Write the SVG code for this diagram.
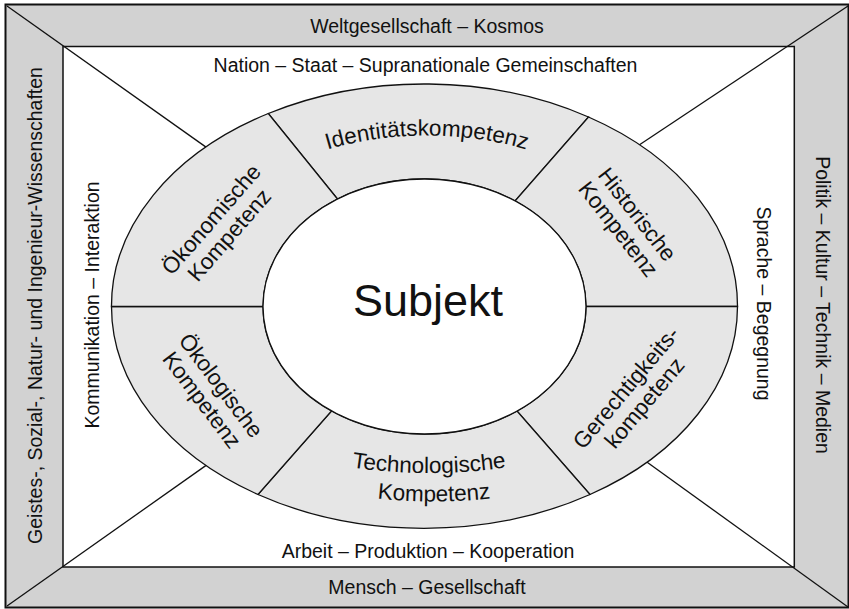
<svg xmlns="http://www.w3.org/2000/svg" width="849" height="609" viewBox="0 0 849 609">
<defs>
<style>
text{font-family:"Liberation Sans",Arial,sans-serif;fill:#111;text-anchor:middle}
.band{font-size:19.5px}
.rt{font-size:22.5px}
.seg{fill:#e6e6e6;stroke:#111;stroke-width:1.3}
.ln{stroke:#111;stroke-width:1.3;fill:none}
</style>
<path id="pTop" d="M177,306.5 A250,171 0 0 1 677,306.5"/>
<path id="pBot1" d="M129,306.5 A300,166.5 0 0 0 729,306.5"/>
<path id="pBot2" d="M114,306.5 A320,195 0 0 0 754,306.5"/>
</defs>
<rect x="0" y="0" width="849" height="609" fill="#fff"/>
<g id="frame">
<rect x="5.5" y="4.5" width="843" height="603" fill="#d2d2d2" stroke="#111" stroke-width="2"/>
<rect x="63" y="46.5" width="731.3" height="520.5" fill="#fff" stroke="#111" stroke-width="1.5"/>
</g>
<g id="connectors">
<line class="ln" x1="7" y1="6" x2="212" y2="151.4"/>
<line class="ln" x1="848" y1="6" x2="632" y2="149.8"/>
<line class="ln" x1="7" y1="606" x2="210" y2="462.6"/>
<line class="ln" x1="848" y1="607" x2="643" y2="459.3"/>
</g>
<g id="ring">
<path id="seg-identitaet" class="seg" d="M268.3,113.5 A313,222 0 0 1 588.5,117 L515,201 A161.5,127.5 0 0 0 337.5,199 Z"/>
<path id="seg-historisch" class="seg" d="M588.5,117 A313,222 0 0 1 737.5,306.5 L586,306.5 A161.5,127.5 0 0 0 515,201 Z"/>
<path id="seg-gerechtigkeit" class="seg" d="M737.5,306.5 A313,222 0 0 1 590,494.5 L517,411 A161.5,127.5 0 0 0 586,306.5 Z"/>
<path id="seg-technologie" class="seg" d="M590,494.5 A313,222 0 0 1 258,494.5 L331.5,411 A161.5,127.5 0 0 0 517,411 Z"/>
<path id="seg-oekologie" class="seg" d="M258,494.5 A313,222 0 0 1 111.5,306.5 L263,306.5 A161.5,127.5 0 0 0 331.5,411 Z"/>
<path id="seg-oekonomie" class="seg" d="M111.5,306.5 A313,222 0 0 1 268.3,113.5 L337.5,199 A161.5,127.5 0 0 0 263,306.5 Z"/>
<ellipse cx="424.5" cy="306.5" rx="161.5" ry="127.5" fill="#fff" stroke="#111" stroke-width="1.3"/>
</g>
<g id="weltgesellschaft"><text class="band" x="427" y="33">Weltgesellschaft – Kosmos</text></g>
<g id="mensch"><text class="band" x="427" y="594">Mensch – Gesellschaft</text></g>
<g id="nation"><text class="band" x="425.5" y="71.5">Nation – Staat – Supranationale Gemeinschaften</text></g>
<g id="arbeit"><text class="band" x="428" y="557.5">Arbeit – Produktion – Kooperation</text></g>
<g id="wissenschaften"><text class="band" transform="translate(41.5,305.5) rotate(-90)">Geistes-, Sozial-, Natur- und Ingenieur-Wissenschaften</text></g>
<g id="kommunikation"><text class="band" transform="translate(98.5,305) rotate(-90)">Kommunikation – Interaktion</text></g>
<g id="politik"><text class="band" transform="translate(815.5,305) rotate(90)">Politik – Kultur – Technik – Medien</text></g>
<g id="sprache"><text class="band" transform="translate(757,303.5) rotate(90)">Sprache – Begegnung</text></g>
<g id="subjekt"><text x="428" y="316" font-size="45">Subjekt</text></g>
<g id="identitaet"><text class="rt"><textPath href="#pTop" startOffset="50%">Identitätskompetenz</textPath></text></g>
<g id="technologie">
<text class="rt"><textPath href="#pBot1" startOffset="50%">Technologische</textPath></text>
<text class="rt"><textPath href="#pBot2" startOffset="50%">Kompetenz</textPath></text>
</g>
<g id="oekonomie" transform="translate(220,227) rotate(-49)">
<text class="rt" y="-4">Ökonomische</text>
<text class="rt" y="20">Kompetenz</text>
</g>
<g id="historisch" transform="translate(628,221.5) rotate(52)">
<text class="rt" y="-4">Historische</text>
<text class="rt" y="20">Kompetenz</text>
</g>
<g id="oekologie" transform="translate(211.7,392.5) rotate(53)">
<text class="rt" y="-4">Ökologische</text>
<text class="rt" y="20">Kompetenz</text>
</g>
<g id="gerechtigkeit" transform="translate(635,395) rotate(-50)">
<text class="rt" y="-4">Gerechtigkeits-</text>
<text class="rt" y="20">kompetenz</text>
</g>
</svg>
